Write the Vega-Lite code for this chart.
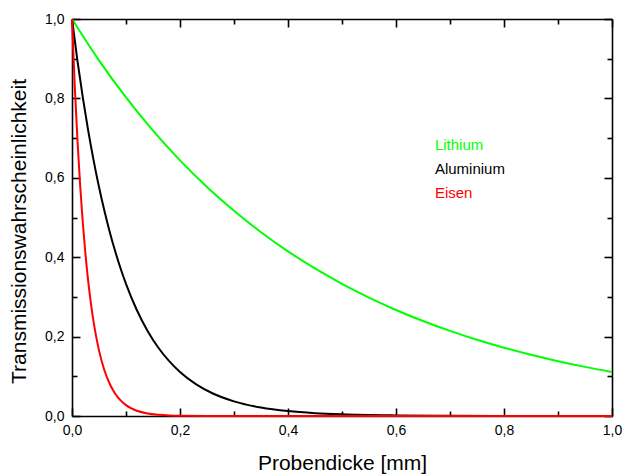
{
  "$schema": "https://vega.github.io/schema/vega-lite/v6.json",
  "width": 540,
  "height": 397,
  "autosize": "none",
  "padding": {"left": 72, "top": 19, "right": 14, "bottom": 59},
  "background": "white",
  "config": {
    "font": "Liberation Sans",
    "view": {"stroke": null},
    "axis": {
      "domainColor": "black",
      "domainWidth": 1.6,
      "tickColor": "black",
      "tickWidth": 1.6,
      "grid": false,
      "labelColor": "black",
      "labelFontSize": 14,
      "titleColor": "black",
      "titleFontSize": 21,
      "titleFontWeight": "normal"
    }
  },
  "datasets": {
    "curves": [
      {"x": 0, "y": 1, "material": "Lithium"},
      {"x": 0.05, "y": 0.8958, "material": "Lithium"},
      {"x": 0.1, "y": 0.8025, "material": "Lithium"},
      {"x": 0.15, "y": 0.7189, "material": "Lithium"},
      {"x": 0.2, "y": 0.644, "material": "Lithium"},
      {"x": 0.25, "y": 0.5769, "material": "Lithium"},
      {"x": 0.3, "y": 0.5169, "material": "Lithium"},
      {"x": 0.35, "y": 0.463, "material": "Lithium"},
      {"x": 0.4, "y": 0.4148, "material": "Lithium"},
      {"x": 0.45, "y": 0.3716, "material": "Lithium"},
      {"x": 0.5, "y": 0.3329, "material": "Lithium"},
      {"x": 0.55, "y": 0.2982, "material": "Lithium"},
      {"x": 0.6, "y": 0.2671, "material": "Lithium"},
      {"x": 0.65, "y": 0.2393, "material": "Lithium"},
      {"x": 0.7, "y": 0.2144, "material": "Lithium"},
      {"x": 0.75, "y": 0.192, "material": "Lithium"},
      {"x": 0.8, "y": 0.172, "material": "Lithium"},
      {"x": 0.85, "y": 0.1541, "material": "Lithium"},
      {"x": 0.9, "y": 0.1381, "material": "Lithium"},
      {"x": 0.95, "y": 0.1237, "material": "Lithium"},
      {"x": 1.0, "y": 0.1108, "material": "Lithium"},
      {"x": 0, "y": 1, "material": "Aluminium"},
      {"x": 0.01, "y": 0.8958, "material": "Aluminium"},
      {"x": 0.02, "y": 0.8025, "material": "Aluminium"},
      {"x": 0.03, "y": 0.7189, "material": "Aluminium"},
      {"x": 0.04, "y": 0.644, "material": "Aluminium"},
      {"x": 0.05, "y": 0.5769, "material": "Aluminium"},
      {"x": 0.06, "y": 0.5169, "material": "Aluminium"},
      {"x": 0.07, "y": 0.463, "material": "Aluminium"},
      {"x": 0.08, "y": 0.4148, "material": "Aluminium"},
      {"x": 0.09, "y": 0.3716, "material": "Aluminium"},
      {"x": 0.1, "y": 0.3329, "material": "Aluminium"},
      {"x": 0.12, "y": 0.2671, "material": "Aluminium"},
      {"x": 0.14, "y": 0.2144, "material": "Aluminium"},
      {"x": 0.16, "y": 0.172, "material": "Aluminium"},
      {"x": 0.18, "y": 0.1381, "material": "Aluminium"},
      {"x": 0.2, "y": 0.1108, "material": "Aluminium"},
      {"x": 0.23, "y": 0.0797, "material": "Aluminium"},
      {"x": 0.26, "y": 0.0573, "material": "Aluminium"},
      {"x": 0.3, "y": 0.0369, "material": "Aluminium"},
      {"x": 0.35, "y": 0.0213, "material": "Aluminium"},
      {"x": 0.4, "y": 0.0123, "material": "Aluminium"},
      {"x": 0.45, "y": 0.0071, "material": "Aluminium"},
      {"x": 0.5, "y": 0.0041, "material": "Aluminium"},
      {"x": 0.6, "y": 0.0014, "material": "Aluminium"},
      {"x": 0.7, "y": 0.0005, "material": "Aluminium"},
      {"x": 0.8, "y": 0.0002, "material": "Aluminium"},
      {"x": 1.0, "y": 0.0, "material": "Aluminium"},
      {"x": 0, "y": 1, "material": "Eisen"},
      {"x": 0.005, "y": 0.8353, "material": "Eisen"},
      {"x": 0.01, "y": 0.6977, "material": "Eisen"},
      {"x": 0.015, "y": 0.5827, "material": "Eisen"},
      {"x": 0.02, "y": 0.4868, "material": "Eisen"},
      {"x": 0.025, "y": 0.4066, "material": "Eisen"},
      {"x": 0.03, "y": 0.3396, "material": "Eisen"},
      {"x": 0.035, "y": 0.2837, "material": "Eisen"},
      {"x": 0.04, "y": 0.2369, "material": "Eisen"},
      {"x": 0.045, "y": 0.1979, "material": "Eisen"},
      {"x": 0.05, "y": 0.1653, "material": "Eisen"},
      {"x": 0.06, "y": 0.1153, "material": "Eisen"},
      {"x": 0.07, "y": 0.0805, "material": "Eisen"},
      {"x": 0.08, "y": 0.0561, "material": "Eisen"},
      {"x": 0.09, "y": 0.0392, "material": "Eisen"},
      {"x": 0.1, "y": 0.0273, "material": "Eisen"},
      {"x": 0.11, "y": 0.0191, "material": "Eisen"},
      {"x": 0.12, "y": 0.0133, "material": "Eisen"},
      {"x": 0.14, "y": 0.0065, "material": "Eisen"},
      {"x": 0.16, "y": 0.0032, "material": "Eisen"},
      {"x": 0.18, "y": 0.0015, "material": "Eisen"},
      {"x": 0.2, "y": 0.0007, "material": "Eisen"},
      {"x": 0.25, "y": 0.0001, "material": "Eisen"},
      {"x": 0.3, "y": 0.0, "material": "Eisen"},
      {"x": 1.0, "y": 0.0, "material": "Eisen"}
    ],
    "labels": [
      {"x": 0.672, "y": 0.683, "material": "Lithium"},
      {"x": 0.672, "y": 0.622, "material": "Aluminium"},
      {"x": 0.672, "y": 0.562, "material": "Eisen"}
    ]
  },
  "layer": [
    {
      "data": {"name": "curves"},
      "mark": {"type": "line", "strokeWidth": 2, "interpolate": "monotone"},
      "encoding": {
        "x": {
          "field": "x", "type": "quantitative",
          "scale": {"domain": [0, 1], "nice": false, "zero": false},
          "axis": {
            "orient": "bottom",
            "title": "Probendicke [mm]",
            "values": [0, 0.1, 0.2, 0.3, 0.4, 0.5, 0.6, 0.7, 0.8, 0.9, 1.0],
            "labelExpr": "round(datum.value*10)%2==0 ? replace(format(datum.value,'.1f'),'.',',') : ''",
            "tickSize": {"condition": {"test": "round(datum.value*10)%2==0", "value": -8}, "value": -5},
            "labelPadding": 15,
            "labelFlush": false,
            "labelOverlap": false,
            "titlePadding": 12
          }
        },
        "y": {
          "field": "y", "type": "quantitative",
          "scale": {"domain": [0, 1], "nice": false, "zero": false},
          "axis": {
            "orient": "left",
            "title": "Transmissionswahrscheinlichkeit",
            "values": [0, 0.1, 0.2, 0.3, 0.4, 0.5, 0.6, 0.7, 0.8, 0.9, 1.0],
            "labelExpr": "round(datum.value*10)%2==0 ? replace(format(datum.value,'.1f'),'.',',') : ''",
            "tickSize": {"condition": {"test": "round(datum.value*10)%2==0", "value": -8}, "value": -5},
            "labelPadding": 16,
            "labelFlush": false,
            "labelOverlap": false,
            "titlePadding": 15,
            "titleY": 212
          }
        },
        "color": {
          "field": "material", "type": "nominal",
          "scale": {"domain": ["Lithium", "Aluminium", "Eisen"], "range": ["#00ff00", "#000000", "#ff0000"]},
          "legend": null
        }
      }
    },
    {
      "data": {"name": "labels"},
      "mark": {"type": "text", "align": "left", "baseline": "middle", "fontSize": 15},
      "encoding": {
        "x": {
          "field": "x", "type": "quantitative",
          "scale": {"domain": [0, 1], "nice": false, "zero": false},
          "axis": {
            "orient": "top",
            "title": null,
            "values": [0, 0.1, 0.2, 0.3, 0.4, 0.5, 0.6, 0.7, 0.8, 0.9, 1.0],
            "labels": false,
            "tickSize": {"condition": {"test": "round(datum.value*10)%2==0", "value": -8}, "value": -5}
          }
        },
        "y": {
          "field": "y", "type": "quantitative",
          "scale": {"domain": [0, 1], "nice": false, "zero": false},
          "axis": {
            "orient": "right",
            "title": null,
            "values": [0, 0.1, 0.2, 0.3, 0.4, 0.5, 0.6, 0.7, 0.8, 0.9, 1.0],
            "labels": false,
            "tickSize": {"condition": {"test": "round(datum.value*10)%2==0", "value": -8}, "value": -5}
          }
        },
        "text": {"field": "material", "type": "nominal"},
        "color": {
          "field": "material", "type": "nominal",
          "scale": {"domain": ["Lithium", "Aluminium", "Eisen"], "range": ["#00ff00", "#000000", "#ff0000"]},
          "legend": null
        }
      }
    }
  ],
  "resolve": {"axis": {"x": "independent", "y": "independent"}}
}
